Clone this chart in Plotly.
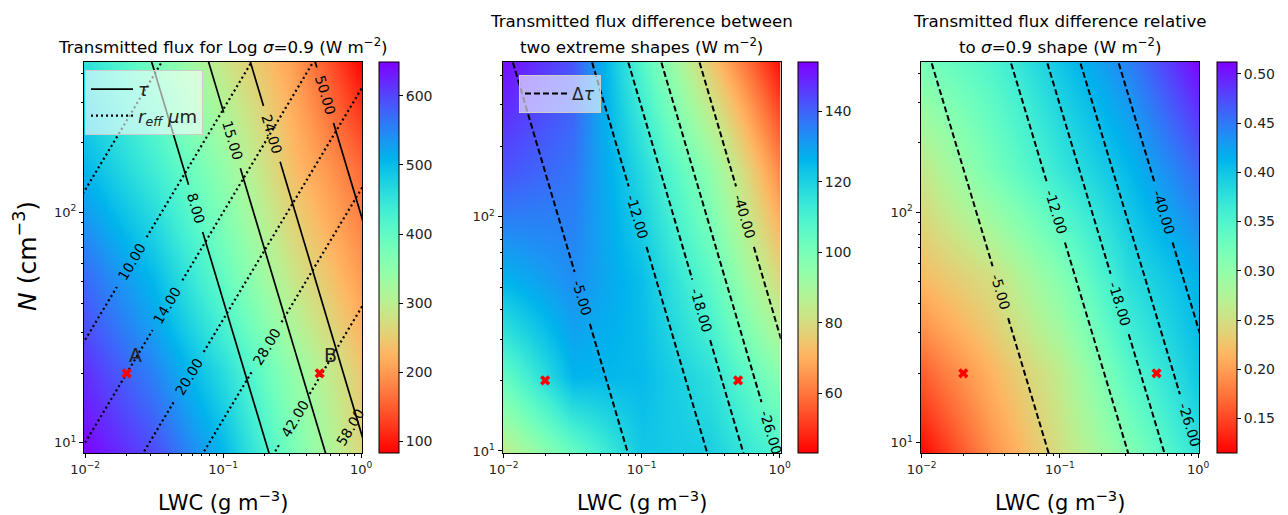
import numpy as np
import plotly.graph_objects as go

# ---------------- data ----------------
LWC_CENTRES = [0.01, 0.0316, 0.1, 0.316, 1.0]      # g m-3
N_CENTRES = [9, 20, 50, 158, 450]                   # cm-3

FLUX = [  # rows follow N_CENTRES, columns follow LWC_CENTRES (W m-2)
    [645, 595, 505, 375, 265],
    [615, 550, 460, 345, 245],
    [570, 500, 395, 285, 200],
    [505, 435, 345, 235, 160],
    [455, 380, 285, 205, 85],
]
FLUX_DIFF = [
    [82, 101, 122, 121, 110],
    [104, 126, 125, 116, 97],
    [126, 133, 124, 106, 79],
    [142, 137, 118, 95, 63],
    [152, 142, 108, 75, 45],
]
FLUX_REL = [
    [0.118, 0.19, 0.25, 0.31, 0.375],
    [0.165, 0.215, 0.265, 0.345, 0.40],
    [0.22, 0.25, 0.31, 0.38, 0.415],
    [0.26, 0.32, 0.37, 0.41, 0.46],
    [0.32, 0.35, 0.40, 0.445, 0.51],
]
CB_RANGES = [(83, 649), (43, 154), (0.115, 0.512)]
CB_TICKS = [[100, 200, 300, 400, 500, 600],
            [60, 80, 100, 120, 140],
            [0.15, 0.20, 0.25, 0.30, 0.35, 0.40, 0.45, 0.50]]
CB_FORMATS = ["d", "d", ".2f"]

TAU_LEVELS = [8, 15, 24, 50]
TAU_LWC_AT_N10 = [0.204, 0.524, 1.05, 3.11]
TAU_LWC_AT_N100 = [0.0644, 0.166, 0.333, 0.984]
TAU_LABEL_N = [104, 205, 219, 322]

REFF_LEVELS = [6, 10, 14, 20, 28, 42, 58]
REFF_LWC_AT_N10 = [0.0008, 0.00358, 0.01, 0.0292, 0.0794, 0.26, 0.714]
REFF_LWC_AT_N100 = [0.008, 0.0358, 0.1, 0.292, 0.794, 2.6, 7.14]
REFF_LABEL_N = [None, 60.8, 39.5, 19.3, 26, 12.7, 11.7]

DTAU_LEVELS = [-5, -12, -18, -26, -40]
DTAU_LWC_AT_N10 = [0.0787, 0.296, 0.541, 0.94, 1.774]
DTAU_LWC_AT_N100 = [0.0249, 0.0935, 0.171, 0.297, 0.561]
DTAU_LABEL_N = [45, 100, 40, 12, 100]

POINT_LWC = [0.02, 0.5]
POINT_N = [20, 20]
POINT_NAMES = ["A", "B"]

X_LIM = [10 ** -2.008, 10 ** 0.008]
Y_LIMS = [[9.02, 449], [9.8, 457], [9.02, 449]]

TITLES = [["Transmitted flux for Log <i>σ</i>=0.9 (W m<sup>−2</sup>)"],
          ["Transmitted flux difference between", "two extreme shapes (W m<sup>−2</sup>)"],
          ["Transmitted flux difference relative", "to <i>σ</i>=0.9 shape (W m<sup>−2</sup>)"]]

# ---------------- layout geometry ----------------
W, H = 1288, 515
PANELS = [(84, 362.3), (502.5, 780.7), (920.5, 1199.3)]
TOP, BOTTOM = 62, 453
CB_LEFT = [379, 798, 1216.5]
FONT = "DejaVu Sans"


def rainbow(s):
    r = np.clip(abs(2 * s - 0.5), 0, 1)
    g = np.clip(np.sin(np.pi * s), 0, 1)
    b = np.clip(np.cos(np.pi * s / 2), 0, 1)
    return "rgb(%d,%d,%d)" % (round(r * 255), round(g * 255), round(b * 255))


COLORSCALE = [[p, rainbow(1 - p)] for p in np.linspace(0, 1, 41)]


def log_edges(c):
    l = np.log10(np.asarray(c, float))
    mids = (l[:-1] + l[1:]) / 2
    e = np.concatenate([[l[0] - (mids[0] - l[0])], mids, [l[-1] + (l[-1] - mids[-1])]])
    return 10 ** e


fig = go.Figure()
annotations = []

Z_LIST = [FLUX, FLUX_DIFF, FLUX_REL]
xe = log_edges(LWC_CENTRES)
ye = log_edges(N_CENTRES)

for i in range(3):
    xa = "x" if i == 0 else "x%d" % (i + 1)
    ya = "y" if i == 0 else "y%d" % (i + 1)
    fig.add_trace(go.Heatmap(
        x=xe, y=ye, z=Z_LIST[i], zmin=CB_RANGES[i][0], zmax=CB_RANGES[i][1],
        colorscale=COLORSCALE, zsmooth="best", xaxis=xa, yaxis=ya, hoverinfo="skip",
        colorbar=dict(x=CB_LEFT[i] / W, xanchor="left", xpad=0, y=1 - (TOP + BOTTOM) / 2 / H,
                      yanchor="middle", ypad=0, len=BOTTOM - TOP, lenmode="pixels",
                      thickness=20, thicknessmode="pixels", outlinewidth=1, outlinecolor="black",
                      tickvals=CB_TICKS[i], tickformat=CB_FORMATS[i], ticks="outside",
                      ticklen=4, tickwidth=1, tickcolor="black",
                      tickfont=dict(size=14, family=FONT, color="#222")),
    ))


def text_width(s, fs):
    w = 0
    for ch in s:
        w += {".": 0.318, "-": 0.361}.get(ch, 0.636)
    return w * fs


def contour_lines(i, lwc10, lwc100, label_n, levels, dash, name, legend, width):
    xa = "x" if i == 0 else "x%d" % (i + 1)
    ya = "y" if i == 0 else "y%d" % (i + 1)
    xl = np.log10(X_LIM)
    yl = np.log10(Y_LIMS[i])
    sx = (PANELS[i][1] - PANELS[i][0]) / (xl[1] - xl[0])
    sy = (BOTTOM - TOP) / (yl[1] - yl[0])
    for k, lev in enumerate(levels):
        x0, y0 = np.log10(lwc10[k]), 1.0
        x1, y1 = np.log10(lwc100[k]), 2.0
        dxp, dyp = (x1 - x0) * sx, (y1 - y0) * sy
        if dxp < 0:
            dxp, dyp = -dxp, -dyp
        nrm = np.hypot(dxp, dyp)
        ux, uy = dxp / nrm, dyp / nrm

        def off(base, p):
            return (base[0] + p * ux / sx, base[1] + p * uy / sy)

        B = (x0, y0)
        ext = 900
        pts = [off(B, -ext)]
        txt = "%.2f" % lev
        if label_n[k] is not None:
            ly = np.log10(label_n[k])
            lx = x0 + (ly - y0) * (x1 - x0) / (y1 - y0)
            g = text_width(txt, 14) / 2 + 9
            pts += [off((lx, ly), -g), (None, None), off((lx, ly), g)]
            annotations.append(dict(
                x=lx, y=ly, xref=xa, yref=ya, text=txt, showarrow=False,
                textangle=-np.degrees(np.arctan2(uy, ux)), xanchor="center", yanchor="middle",
                font=dict(size=14, family=FONT, color="black")))
        pts.append(off(B, ext))
        xs = [None if p[0] is None else 10 ** p[0] for p in pts]
        ys = [None if p[1] is None else 10 ** p[1] for p in pts]
        fig.add_trace(go.Scatter(
            x=xs, y=ys, mode="lines", xaxis=xa, yaxis=ya, connectgaps=False,
            line=dict(color="black", width=width, dash=dash), hoverinfo="skip",
            name=name, legend=legend, legendgroup=legend, showlegend=(k == 0)))


contour_lines(0, TAU_LWC_AT_N10, TAU_LWC_AT_N100, TAU_LABEL_N, TAU_LEVELS,
              "solid", "<i>τ</i>", "legend", 1.7)
contour_lines(0, REFF_LWC_AT_N10, REFF_LWC_AT_N100, REFF_LABEL_N, REFF_LEVELS,
              "2px,3px", "<i>r<sub>eff</sub> μ</i>m", "legend", 2.2)
contour_lines(1, DTAU_LWC_AT_N10, DTAU_LWC_AT_N100, DTAU_LABEL_N, DTAU_LEVELS,
              "6px,3px", "Δ<i>τ</i>", "legend2", 2.0)
contour_lines(2, DTAU_LWC_AT_N10, DTAU_LWC_AT_N100, DTAU_LABEL_N, DTAU_LEVELS,
              "6px,3px", "Δ<i>τ</i>", "legend3", 2.0)

for i in range(3):
    xa = "x" if i == 0 else "x%d" % (i + 1)
    ya = "y" if i == 0 else "y%d" % (i + 1)
    fig.add_trace(go.Scatter(
        x=POINT_LWC, y=POINT_N, mode="markers", xaxis=xa, yaxis=ya, showlegend=False,
        marker=dict(symbol="x", size=9, color="red", line=dict(width=0)), hoverinfo="skip"))

for nm, lw, n, xs in zip(POINT_NAMES, POINT_LWC, POINT_N, [0, 2]):
    annotations.append(dict(x=np.log10(lw), y=np.log10(n), xref="x", yref="y", text=nm,
                            showarrow=False, xanchor="left", yanchor="bottom", xshift=xs, yshift=5,
                            font=dict(size=19, family=FONT, color="#222")))

# titles and axis labels
for i in range(3):
    cx = (PANELS[i][0] + PANELS[i][1]) / 2 / W
    lines = TITLES[i]
    ys = [45.5] if len(lines) == 1 else [20.5, 45.5]
    for t, yy in zip(lines, ys):
        annotations.append(dict(x=cx, y=1 - yy / H, xref="paper", yref="paper", text=t,
                                showarrow=False, xanchor="center", yanchor="middle",
                                font=dict(size=16.7, family=FONT, color="black")))
    annotations.append(dict(x=cx, y=1 - 501 / H, xref="paper", yref="paper",
                            text="LWC (g m<sup>−3</sup>)", showarrow=False,
                            xanchor="center", yanchor="middle",
                            font=dict(size=21, family=FONT, color="black")))
annotations.append(dict(x=25 / W, y=1 - 256 / H, xref="paper", yref="paper",
                        text="<i>N</i> (cm<sup>−3</sup>)", showarrow=False, textangle=-90,
                        xanchor="center", yanchor="middle",
                        font=dict(size=25, family=FONT, color="black")))

xminor = [k * 10.0 ** e for e in (-2, -1) for k in range(2, 10)]
yminor = [k * 10 for k in range(1, 10)] + [200, 300, 400]

layout = dict(width=W, height=H, margin=dict(l=0, r=0, t=0, b=0, autoexpand=False),
              paper_bgcolor="white", plot_bgcolor="white",
              font=dict(family=FONT, color="black"),
              annotations=annotations,
              legend=dict(x=85 / W, y=1 - 70 / H, xanchor="left", yanchor="top",
                          bgcolor="rgba(255,255,255,0.6)", bordercolor="#cccccc", borderwidth=1,
                          font=dict(size=18, family=FONT, color="#222"), itemwidth=42,
                          tracegroupgap=0),
              legend2=dict(x=519 / W, y=1 - 75 / H, xanchor="left", yanchor="top",
                           bgcolor="rgba(255,255,255,0.6)", bordercolor="#cccccc", borderwidth=1,
                           font=dict(size=17, family=FONT, color="#222"), itemwidth=42,
                           tracegroupgap=0),
              legend3=dict(visible=False))

for i in range(3):
    xk = "xaxis" if i == 0 else "xaxis%d" % (i + 1)
    yk = "yaxis" if i == 0 else "yaxis%d" % (i + 1)
    ya = "y" if i == 0 else "y%d" % (i + 1)
    xa = "x" if i == 0 else "x%d" % (i + 1)
    common = dict(showline=True, linecolor="black", linewidth=1, mirror=True, ticks="outside",
                  ticklen=4, tickwidth=1, tickcolor="black", showgrid=False, zeroline=False,
                  automargin=False, tickfont=dict(size=13, family=FONT, color="#222"))
    layout[xk] = dict(type="log", range=list(np.log10(X_LIM)), anchor=ya,
                      domain=[PANELS[i][0] / W, PANELS[i][1] / W],
                      tickmode="array", tickvals=[0.01, 0.1, 1],
                      ticktext=["10<sup>−2</sup>", "10<sup>−1</sup>", "10<sup>0</sup>"],
                      minor=dict(tickmode="array", tickvals=xminor, ticks="outside", ticklen=2,
                                 tickcolor="black"),
                      **common)
    layout[yk] = dict(type="log", range=list(np.log10(Y_LIMS[i])), anchor=xa,
                      domain=[1 - BOTTOM / H, 1 - TOP / H],
                      tickmode="array", tickvals=[10, 100],
                      ticktext=["10<sup>1</sup>", "10<sup>2</sup>"],
                      minor=dict(tickmode="array", tickvals=yminor, ticks="outside", ticklen=2,
                                 tickcolor="black"),
                      **common)

fig.update_layout(**layout)
fig.write_html("out.html")
